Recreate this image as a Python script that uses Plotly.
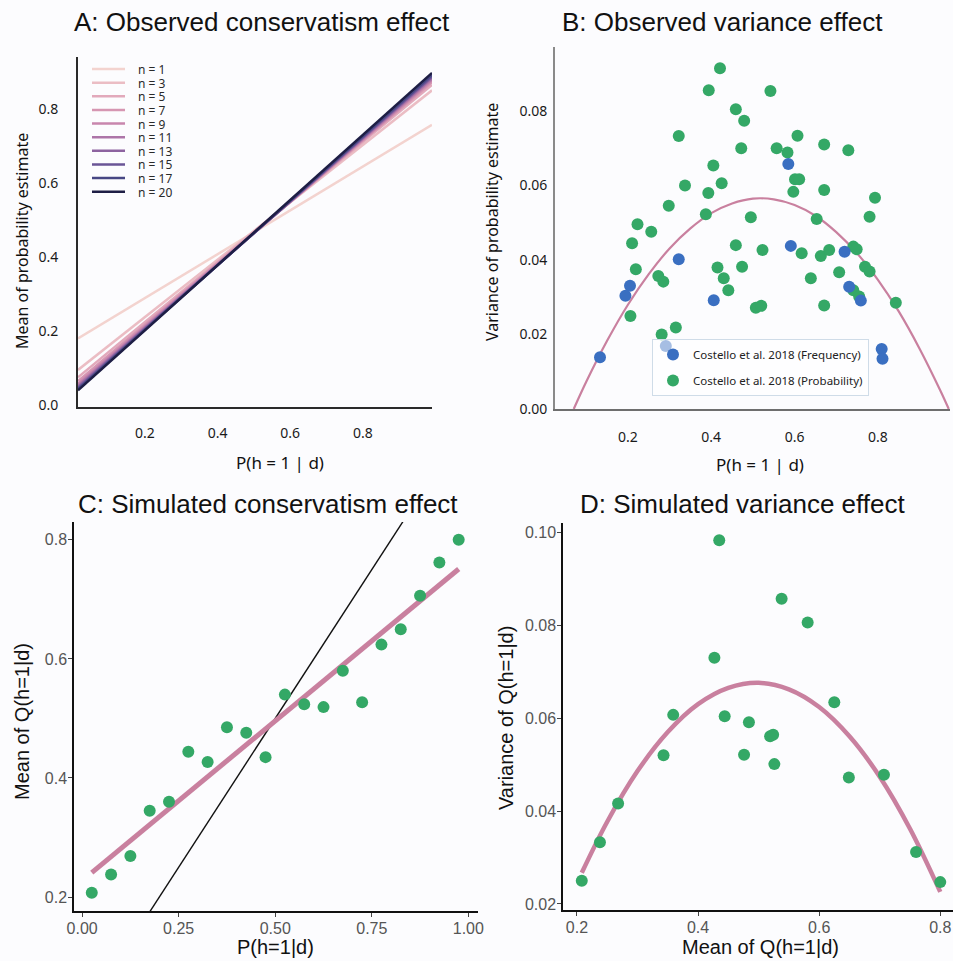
import plotly.graph_objects as go

W, H = 953, 961

# ---------------- Panel A data ----------------
a_n_labels = ["n = 1", "n = 3", "n = 5", "n = 7", "n = 9", "n = 11", "n = 13", "n = 15", "n = 17", "n = 20"]
a_colors = ["#f3d3cf", "#ebbdc4", "#e2a9bb", "#d696b2", "#c886ad", "#ad75a8", "#8d63a0", "#6a5596", "#474784", "#1e1e45"]
a_x_ends = [0.016, 0.99]
a_left_y = [0.18, 0.095, 0.075, 0.065, 0.058, 0.053, 0.049, 0.046, 0.043, 0.040]
a_right_y = [0.757, 0.850, 0.865, 0.872, 0.877, 0.881, 0.885, 0.888, 0.892, 0.897]

# ---------------- Panel B data ----------------
b_freq_x = [0.585, 0.591, 0.720, 0.322, 0.205, 0.194, 0.406, 0.731, 0.759, 0.291, 0.133, 0.809, 0.811]
b_freq_y = [0.0658, 0.0438, 0.0422, 0.0402, 0.0331, 0.0304, 0.0292, 0.0328, 0.0291, 0.0169, 0.0139, 0.0161, 0.0135]
b_prob_x = [0.421, 0.394, 0.542, 0.459, 0.479, 0.322, 0.607, 0.671, 0.729, 0.472, 0.557, 0.583, 0.405, 0.337,
            0.425, 0.393, 0.601, 0.611, 0.597, 0.671, 0.793, 0.298, 0.387, 0.495, 0.653, 0.780, 0.223, 0.256,
            0.210, 0.459, 0.523, 0.617, 0.663, 0.683, 0.741, 0.749, 0.219, 0.415, 0.474, 0.707, 0.769, 0.780,
            0.273, 0.285, 0.430, 0.639, 0.441, 0.741, 0.755, 0.507, 0.520, 0.671, 0.843, 0.206, 0.315, 0.281]
b_prob_y = [0.0915, 0.0856, 0.0854, 0.0805, 0.0774, 0.0733, 0.0734, 0.0710, 0.0695, 0.0700, 0.0700, 0.0689, 0.0654, 0.0600,
            0.0606, 0.0580, 0.0617, 0.0617, 0.0583, 0.0588, 0.0567, 0.0546, 0.0523, 0.0515, 0.0510, 0.0516, 0.0496, 0.0476,
            0.0445, 0.0440, 0.0427, 0.0418, 0.0411, 0.0427, 0.0436, 0.0429, 0.0375, 0.0380, 0.0382, 0.0367, 0.0382, 0.0369,
            0.0357, 0.0342, 0.0351, 0.0351, 0.0319, 0.0319, 0.0302, 0.0272, 0.0277, 0.0278, 0.0285, 0.0250, 0.0219, 0.0200]
b_curve_x = [0.07, 0.10, 0.15, 0.20, 0.25, 0.30, 0.35, 0.40, 0.45, 0.50, 0.55, 0.60, 0.65, 0.70, 0.75, 0.80, 0.85, 0.90, 0.95, 0.97]
b_curve_y = [0.0, 0.0073, 0.0183, 0.0280, 0.0362, 0.0431, 0.0485, 0.0526, 0.0552, 0.0565, 0.0563, 0.0548, 0.0519, 0.0475,
             0.0418, 0.0347, 0.0262, 0.0162, 0.0049, 0.0]

# ---------------- Panel C data ----------------
c_x = [0.025, 0.075, 0.125, 0.175, 0.225, 0.275, 0.325, 0.375, 0.425, 0.475,
       0.525, 0.575, 0.625, 0.675, 0.725, 0.775, 0.825, 0.875, 0.925, 0.975]
c_y = [0.207, 0.238, 0.269, 0.345, 0.360, 0.444, 0.427, 0.485, 0.476, 0.435,
       0.540, 0.524, 0.519, 0.580, 0.527, 0.624, 0.650, 0.706, 0.762, 0.800]
c_fit_x = [0.025, 0.975]
c_fit_y = [0.241, 0.751]
c_ident = [0.0, 1.0]

# ---------------- Panel D data ----------------
d_x = [0.435, 0.538, 0.581, 0.427, 0.625, 0.359, 0.444, 0.484, 0.519, 0.524,
       0.343, 0.476, 0.526, 0.649, 0.707, 0.268, 0.238, 0.760, 0.208, 0.800]
d_y = [0.0983, 0.0857, 0.0806, 0.0730, 0.0634, 0.0607, 0.0604, 0.0591, 0.0561, 0.0564,
       0.0520, 0.0521, 0.0501, 0.0472, 0.0478, 0.0416, 0.0333, 0.0312, 0.0250, 0.0247]
d_curve_x = [0.208, 0.25, 0.30, 0.35, 0.40, 0.45, 0.50, 0.55, 0.60, 0.65, 0.70, 0.75, 0.80]
d_curve_y = [0.0267, 0.0377, 0.0486, 0.0570, 0.0630, 0.0665, 0.0676, 0.0662, 0.0624, 0.0561, 0.0474, 0.0362, 0.0226]

GREEN = "#34a866"
BLUE = "#3a6fc1"
PINK = "#c9809f"
MYRIAD = "Noto Sans, DejaVu Sans, sans-serif"
HELV = "Liberation Sans, Arial, sans-serif"

fig = go.Figure()

# Panel A
for i in range(len(a_n_labels)):
    fig.add_trace(go.Scatter(x=a_x_ends, y=[a_left_y[i], a_right_y[i]], mode="lines",
                             line=dict(color=a_colors[i], width=2.5), showlegend=False,
                             name=a_n_labels[i], xaxis="x", yaxis="y"))

# Panel B
fig.add_trace(go.Scatter(x=b_curve_x, y=b_curve_y, mode="lines", line=dict(color=PINK, width=2.2, shape="spline"),
                         showlegend=False, xaxis="x2", yaxis="y2"))
fig.add_trace(go.Scatter(x=b_prob_x, y=b_prob_y, mode="markers", marker=dict(color=GREEN, size=12),
                         name="Costello et al. 2018 (Probability)", legendrank=2, legendgroup="p",
                         xaxis="x2", yaxis="y2"))
fig.add_trace(go.Scatter(x=b_freq_x, y=b_freq_y, mode="markers", marker=dict(color=BLUE, size=12),
                         name="Costello et al. 2018 (Frequency)", legendrank=1, legendgroup="f",
                         xaxis="x2", yaxis="y2"))

# Panel C
fig.add_trace(go.Scatter(x=c_ident, y=c_ident, mode="lines", line=dict(color="#111111", width=1.4),
                         showlegend=False, xaxis="x3", yaxis="y3"))
fig.add_trace(go.Scatter(x=c_fit_x, y=c_fit_y, mode="lines", line=dict(color=PINK, width=5),
                         showlegend=False, xaxis="x3", yaxis="y3"))
fig.add_trace(go.Scatter(x=c_x, y=c_y, mode="markers", marker=dict(color=GREEN, size=12),
                         showlegend=False, xaxis="x3", yaxis="y3"))

# Panel D
fig.add_trace(go.Scatter(x=d_curve_x, y=d_curve_y, mode="lines", line=dict(color=PINK, width=4.5, shape="spline"),
                         showlegend=False, xaxis="x4", yaxis="y4"))
fig.add_trace(go.Scatter(x=d_x, y=d_y, mode="markers", marker=dict(color=GREEN, size=12),
                         showlegend=False, xaxis="x4", yaxis="y4"))


def px_x(p):
    return p / W


def px_y(p):
    return 1 - p / H


ab_tick = dict(family=MYRIAD, size=14, color="#1a1a1a")
cd_tick = dict(family=HELV, size=16, color="#555555")

common = dict(showgrid=False, zeroline=False, showline=True, automargin=False)
cd_ticks = dict(ticks="outside", ticklen=4, tickcolor="#444444", tickwidth=1, ticklabelstandoff=-2,
                linecolor="#111111", linewidth=1.5, tickfont=cd_tick)

fig.update_layout(
    template="none",
    width=W, height=H,
    margin=dict(l=0, r=0, t=0, b=0, autoexpand=False),
    paper_bgcolor="#fcfcfe", plot_bgcolor="#fcfcfe",
    # Panel A
    xaxis=dict(domain=[px_x(78), px_x(432)], range=[0.016, 0.99], anchor="y",
               tickvals=[0.2, 0.4, 0.6, 0.8], ticktext=["0.2", "0.4", "0.6", "0.8"],
               ticks="outside", ticklen=12, tickcolor="rgba(0,0,0,0)",
               linecolor="#2a2a2a", linewidth=2, tickfont=ab_tick, **common),
    yaxis=dict(domain=[px_y(407), px_y(57)], range=[-0.005, 0.94], anchor="x",
               tickvals=[0.0, 0.2, 0.4, 0.6, 0.8], ticktext=["0.0", "0.2", "0.4", "0.6", "0.8"],
               ticks="outside", ticklen=15, tickcolor="rgba(0,0,0,0)",
               linecolor="#2a2a2a", linewidth=2, tickfont=ab_tick, **common),
    # Panel B
    xaxis2=dict(domain=[px_x(555), px_x(950)], range=[0.025, 0.973], anchor="y2",
                tickvals=[0.2, 0.4, 0.6, 0.8], ticktext=["0.2", "0.4", "0.6", "0.8"],
                ticks="outside", ticklen=14, tickcolor="rgba(0,0,0,0)",
                linecolor="#6e6e6e", linewidth=2, tickfont=ab_tick, **common),
    yaxis2=dict(domain=[px_y(409), px_y(47)], range=[0.0, 0.0972], anchor="x2",
                tickvals=[0.0, 0.02, 0.04, 0.06, 0.08], ticktext=["0.00", "0.02", "0.04", "0.06", "0.08"],
                ticks="outside", ticklen=3, tickcolor="rgba(0,0,0,0)",
                linecolor="#8a8a8a", linewidth=2, tickfont=ab_tick, **common),
    # Panel C
    xaxis3=dict(domain=[px_x(74), px_x(478)], range=[-0.021, 1.025], anchor="y3",
                tickvals=[0.0, 0.25, 0.5, 0.75, 1.0], ticktext=["0.00", "0.25", "0.50", "0.75", "1.00"],
                **cd_ticks, **common),
    yaxis3=dict(domain=[px_y(911), px_y(522)], range=[0.1765, 0.830], anchor="x3",
                tickvals=[0.2, 0.4, 0.6, 0.8], ticktext=["0.2", "0.4", "0.6", "0.8"],
                **cd_ticks, **common),
    # Panel D
    xaxis4=dict(domain=[px_x(563), px_x(953)], range=[0.177, 0.821], anchor="y4",
                tickvals=[0.2, 0.4, 0.6, 0.8], ticktext=["0.2", "0.4", "0.6", "0.8"],
                **cd_ticks, **common),
    yaxis4=dict(domain=[px_y(910), px_y(523)], range=[0.0187, 0.102], anchor="x4",
                tickvals=[0.02, 0.04, 0.06, 0.08, 0.10], ticktext=["0.02", "0.04", "0.06", "0.08", "0.10"],
                **cd_ticks, **common),
    showlegend=True,
    legend=dict(x=px_x(652), y=px_y(339), xanchor="left", yanchor="top",
                bgcolor="rgba(255,255,255,0.55)", bordercolor="#cfdce8", borderwidth=1,
                font=dict(family=MYRIAD, size=11.5, color="#222222"), tracegroupgap=7,
                itemwidth=30),
)

annotations = []


def ann(text, cx, cy, size, family, color="#111111", angle=0, xanchor="center"):
    annotations.append(dict(text=text, x=px_x(cx), y=px_y(cy), xref="paper", yref="paper",
                            xanchor=xanchor, yanchor="middle", showarrow=False, textangle=angle,
                            font=dict(size=size, family=family, color=color)))


# Titles
ann("A: Observed conservatism effect", 262, 22, 26, HELV)
ann("B: Observed variance effect", 722, 22, 26, HELV)
ann("C: Simulated conservatism effect", 268, 504, 26, HELV)
ann("D: Simulated variance effect", 742, 504, 26, HELV)
# Axis titles
ann("Mean of probability estimate", 22, 241, 16, MYRIAD, angle=-90)
ann("P(h = 1 | d)", 280, 463, 17, MYRIAD)
ann("Variance of probability estimate", 492, 222, 16, MYRIAD, angle=-90)
ann("P(h = 1 | d)", 760, 464, 17, MYRIAD)
ann("Mean of Q(h=1|d)", 22, 722, 20, HELV, angle=-90)
ann("P(h=1|d)", 275, 947, 20, HELV)
ann("Variance of Q(h=1|d)", 506, 718, 20, HELV, angle=-90)
ann("Mean of Q(h=1|d)", 760, 947, 20, HELV)

# Panel A legend: keys as shapes, labels as one multi-line text block
shapes = []
A_LEG_TOP = 69
A_LEG_STEP = 13.63
for i, lab in enumerate(a_n_labels):
    yy = A_LEG_TOP + i * A_LEG_STEP
    shapes.append(dict(type="line", xref="paper", yref="paper", x0=px_x(92), x1=px_x(125),
                       y0=px_y(yy), y1=px_y(yy), line=dict(color=a_colors[i], width=2.5)))
leg_text = "<br>".join('<span style="font-size:12px">%s</span>' % lab for lab in a_n_labels)
center_y = A_LEG_TOP + (len(a_n_labels) - 1) * A_LEG_STEP / 2
annotations.append(dict(text=leg_text, x=px_x(136), y=px_y(center_y + 0.5), xref="paper", yref="paper",
                        xanchor="left", yanchor="middle", align="left", showarrow=False,
                        font=dict(size=A_LEG_STEP / 1.3, family=MYRIAD, color="#2a2a2a")))

fig.update_layout(annotations=annotations, shapes=shapes)

fig.write_html("out.html", config={"displayModeBar": False},
               post_script="document.body.style.margin='0';document.body.style.padding='0';"
                           "document.body.style.overflow='hidden';")
